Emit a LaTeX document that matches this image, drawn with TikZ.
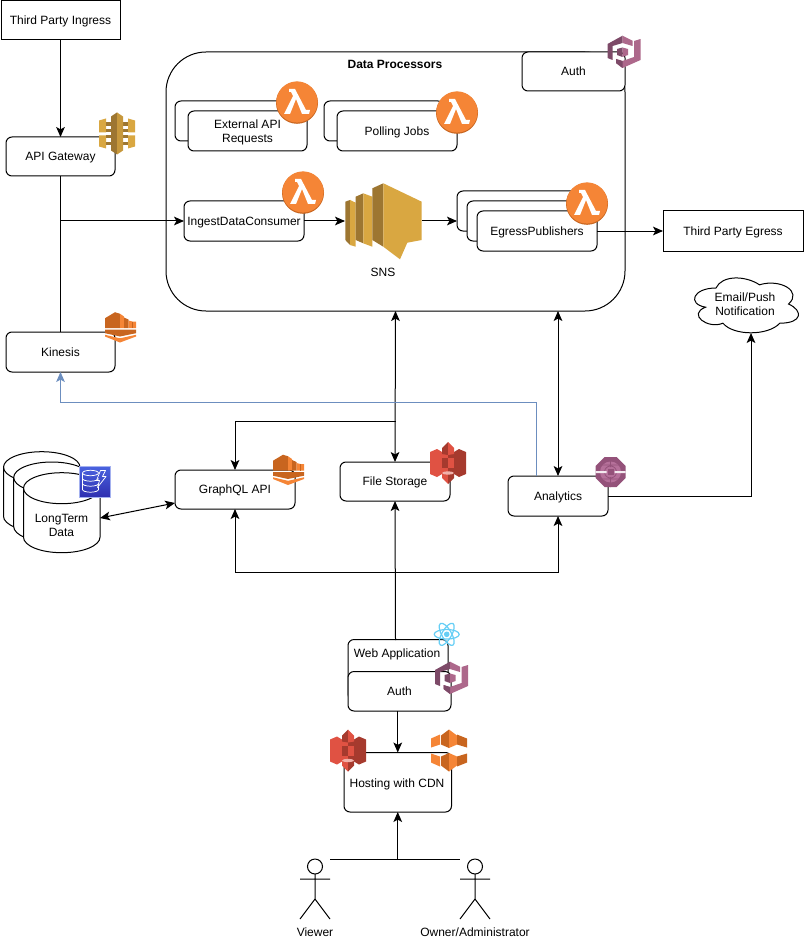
\documentclass[tikz,border=0pt]{standalone}
\usepackage{fontspec}
\setmainfont{Liberation Sans}
\usetikzlibrary{arrows.meta}
\definecolor{goldL}{HTML}{D9A741}
\definecolor{goldD}{HTML}{9D7631}
\definecolor{orgL}{HTML}{F58536}
\definecolor{orgD}{HTML}{C8651F}
\definecolor{redL}{HTML}{E05243}
\definecolor{redD}{HTML}{A63A2E}
\definecolor{purL}{HTML}{AD688B}
\definecolor{purD}{HTML}{7D4A68}
\definecolor{anaL}{HTML}{B5709A}
\definecolor{anaD}{HTML}{94527A}
\definecolor{ddbT}{HTML}{4A63E0}
\definecolor{ddbB}{HTML}{2E2FB0}
\definecolor{linkblue}{HTML}{6C8EBF}
\tikzset{
  base/.style={draw=black,fill=white,line width=.75pt,inner sep=0pt,outer sep=0pt,align=center,text depth=0pt,font=\fontsize{9}{10.5}\selectfont},
  plain/.style={base},
  rbox/.style={base,rounded corners=4.5pt},
  label/.style={inner sep=0pt,outer sep=0pt,align=center,text depth=0pt,font=\fontsize{9}{10.5}\selectfont},
  wire/.style={line width=.75pt,draw=black},
  arr/.style={wire,-{Stealth[length=7.5pt,width=6.5pt,inset=1.8pt]}},
  darr/.style={wire,{Stealth[length=7.5pt,width=6.5pt,inset=1.8pt]}-{Stealth[length=7.5pt,width=6.5pt,inset=1.8pt]}},
  barr/.style={line width=.6pt,draw=linkblue,-{Stealth[length=7.5pt,width=6.5pt,inset=1.8pt]}},
  stick/.style={line width=.75pt,draw=black},
}
\newcommand\bn[7]{%
  \pgfmathsetmacro\bw{(#5-#3)*.75}\pgfmathsetmacro\bh{(#6-#4)*.75}%
  \node[#1,minimum width=\bw pt,minimum height=\bh pt] (#2) at ({(#3+#5)/2},{(#4+#6)/2}) {#7};}
\newcommand\lambdaicon[1]{\begin{scope}[shift={#1}]
  \fill[orgD] (0,0.8) circle[radius=21];
  \fill[orgL] (0,0) circle[radius=20.6];
  \fill[white] (-8,-13)--(-2,-13)--(9,8)--(13,8)--(12,12)--(5,12)--(-1,-3)--(-7,12)--(-13,12)--(-4,-6)--(-6,-10)--(-8,-10)--cycle;
\end{scope}}
\newcommand\apiicon[1]{\begin{scope}[shift={#1}]
  \fill[goldL] (-18,-13)--(-11,-15)--(-11,-1)--(-18,-1)--cycle;
  \fill[goldL] (-18,2)--(-11,2)--(-11,15)--(-18,13)--cycle;
  \fill[goldD] (-11,-11)--(-5,-11)--(-5,-7)--(-11,-7)--cycle;
  \fill[goldD] (-11,-1)--(-11,-4)--(-5,-4)--(-5,-1)--cycle;
  \fill[goldD] (-11,2)--(-5,2)--(-5,5)--(-11,5)--cycle;
  \fill[goldD] (-11,9)--(-5,9)--(-5,12)--(-11,12)--cycle;
  \fill[goldD] (5,-11)--(11,-11)--(11,-7)--(5,-7)--cycle;
  \fill[goldD] (5,-4)--(11,-4)--(11,-1)--(5,-1)--cycle;
  \fill[goldD] (5,2)--(11,2)--(11,5)--(5,5)--cycle;
  \fill[goldD] (5,9)--(11,9)--(11,12)--(5,12)--cycle;
  \fill[goldL] (11,-15)--(18,-13)--(18,-1)--(11,-1)--cycle;
  \fill[goldL] (11,2)--(18,2)--(18,13)--(11,15)--cycle;
  \fill[goldD] (-6,-17)--(0,-21)--(0,21)--(-6,17)--cycle;
  \fill[goldL!70!goldD] (0,-21)--(6,-17)--(6,17)--(0,21)--cycle;
\end{scope}}
\newcommand\kinicon[1]{\begin{scope}[shift={#1}]
  \fill[orgD] (-15.5,-8.3)--(-5.5,-14.3)--(-0.5,-12.7)--(-0.5,1.7)--(-15.5,1.7)--cycle;
  \fill[orgL] (-0.5,-12.7)--(-0.5,1.7)--(3.5,1.7)--(3.5,-10)--cycle;
  \fill[orgD] (3.5,-9)--(8,-7)--(8,1.7)--(3.5,1.7)--cycle;
  \fill[orgL] (8,-6)--(12,-5)--(15.5,-5)--(15.5,1.7)--(8,1.7)--cycle;
  \fill[orgD] (11,-5) rectangle (12.5,1.7);
  \fill[orgD] (-15.5,3)--(15.5,3)--(15.5,6.7)--(-0.5,10)--(-15.5,6.7)--cycle;
  \fill[orgL] (-15.5,8.3)--(-0.5,11.8)--(15.5,8.3)--(15.5,10)--(-0.5,16)--(-15.5,10)--cycle;
\end{scope}}
\newcommand\sthree[1]{\begin{scope}[shift={#1}]
  \fill[redL] (-18,-11)--(-11,-14)--(-6,-11)--(0,-11)--(0,11)--(-6,11)--(-11,14)--(-18,11)--cycle;
  \fill[redD] (18,-11)--(11,-14)--(6,-11)--(0,-11)--(0,11)--(6,11)--(11,14)--(18,11)--cycle;
  \fill[redD] (-6,-5) rectangle (0,5);
  \fill[redL] (0,-5) rectangle (6,5);
  \fill[redD] (-6,-15)--(0,-21)--(0,-8)--(-6,-9)--cycle;
  \fill[redL] (0,-21)--(6,-15)--(6,-9)--(0,-8)--cycle;
  \fill[redL] (-6,11)--(0,9)--(0,21)--(-6,15)--cycle;
  \fill[redD] (0,9)--(6,11)--(6,15)--(0,21)--cycle;
  \fill[redL!45!white] (0,10) ellipse[x radius=6,y radius=1.6];
\end{scope}}
\newcommand\cfront[1]{\begin{scope}[shift={#1}]
  \foreach \s in {1,-1}{\begin{scope}[yscale=\s]
    \fill[orgL] (-18,3)--(-18,12)--(-9,16)--(-9,6)--cycle;
    \fill[orgD] (-8,6) -- (0,2.5) -- (0,21) -- (-8,15)--cycle;
    \fill[orgL] (0,2.5) -- (8,6) -- (8,15) -- (0,21)--cycle;
    \fill[orgD] (8,6)--(18,3)--(18,12)--(8,16)--cycle;
  \end{scope}}
\end{scope}}
\newcommand\cogicon[1]{\begin{scope}[shift={#1}]
  \fill[purD] (-16.5,-8)--(-1.5,-16.3)--(-1.5,-9)--(-11.5,-6)--(-11.5,8)--(-16.5,6)--cycle;
  \fill[purL] (-1.5,-16.3)--(8.5,-11.3)--(8.5,-6)--(-1.5,-9)--cycle;
  \fill[purL] (10,-11)--(16.5,-13)--(16.5,8)--(-1.5,16)--(-8,11)--(-8,7)--(-1.5,9)--(10,5)--cycle;
  \fill[purD] (-8,7)--(-1.5,9)--(-1.5,16)--(-8,11)--cycle;
  \fill[purD] (-7,-3)--(-1.5,-4.5)--(-1.5,5)--(-7,3)--cycle;
  \fill[purL] (-1.5,-4.5)--(4,-3)--(4,3)--(-1.5,5)--cycle;
\end{scope}}
\newcommand\anaicon[1]{\begin{scope}[shift={#1}]
  \fill[anaD] (-6,-15)--(6,-15)--(15,-6)--(15,6)--(6,15)--(-6,15)--(-15,6)--(-15,-6)--cycle;
  \fill[anaL] (0,0) circle[radius=10.5];
  \draw[anaD,line width=.6pt] (0,0) circle[radius=6] (-13,-7)--(13,-7) (-13,7)--(13,7) (0,-15)--(0,-5) (0,5)--(0,15);
  \fill[anaD] (-3,-3) rectangle (3,3);
  \fill[white!85!anaL] (-15,-1) rectangle (-4,1) (4,-1) rectangle (15,1);
\end{scope}}
\newcommand\ddbicon[1]{\begin{scope}[shift={#1}]
  \shade[top color=ddbT,bottom color=ddbB,draw=ddbT!50!white,line width=.4pt] (-15.5,-15.5) rectangle (15.5,15.5);
  \begin{scope}[draw=white,line width=.55pt]
    \draw[fill=none] (-4,-8.5) ellipse[x radius=8,y radius=2.7];
    \draw (-12,-8.5)--(-12,8) (4,5)--(4,8);
    \draw (-12,-3) arc[start angle=180,end angle=0,x radius=8,y radius=2.7];
    \draw (-12,2) arc[start angle=180,end angle=0,x radius=8,y radius=2.7];
    \draw (-12,8) arc[start angle=180,end angle=0,x radius=8,y radius=2.7];
    \draw[line join=round] (6,-11)--(11,-11)--(8,-5)--(11.5,-5)--(3,6)--(5,-1)--(2,-1)--cycle;
  \end{scope}
\end{scope}}
\newcommand\reacticon[1]{\begin{scope}[shift={#1}]
  \foreach \a in {0,60,120}{\draw[draw=cyan!60!white,line width=.9pt,rotate=\a] (0,0) ellipse[x radius=12.5,y radius=4.8];}
  \fill[cyan!60!white] (0,0) circle[radius=2.8];
\end{scope}}
\newcommand\cyl[5]{%
  \draw[line width=.75pt,fill=white] (#1,{#3+#5}) -- (#1,{#4-#5}) arc[start angle=180,end angle=0,x radius={(#2-#1)/2},y radius=#5] -- (#2,{#3+#5}) arc[start angle=0,end angle=-180,x radius={(#2-#1)/2},y radius=#5] -- cycle;
  \draw[line width=.75pt] (#1,{#3+#5}) arc[start angle=180,end angle=0,x radius={(#2-#1)/2},y radius=#5];}
\newcommand\actor[2]{\begin{scope}[shift={(#1,#2)}]
  \draw[stick,fill=white] (0,7.5) circle[radius=7.5];
  \draw[stick] (0,15)--(0,40) (-15,20)--(15,20) (-15,60)--(0,40)--(15,60);
\end{scope}}
\begin{document}
\begin{tikzpicture}[x=.75pt,y=-.75pt]
\useasboundingbox (0,0) rectangle (804,941);
% ---- boxes
\bn{plain}{ingress}{1}{1}{120}{40}{Third Party Ingress}
\bn{rbox}{gateway}{6}{137}{115}{176}{API Gateway}
\bn{base,rounded corners=30pt}{dp}{166}{52}{625}{311}{}
\node[label,font=\fontsize{9}{10.5}\selectfont\bfseries] (dptitle) at (395,64) {Data Processors};
\bn{rbox}{auth}{522}{52}{625}{91}{Auth}
\bn{rbox}{extb}{175}{101}{295}{141}{}
\bn{rbox}{ext}{188}{111}{307}{151}{External API\\Requests}
\bn{rbox}{pollb}{324}{101}{444}{141}{}
\bn{rbox}{poll}{337}{111}{457}{151}{Polling Jobs}
\bn{rbox}{ingest}{184}{201}{304}{241}{IngestDataConsumer}
\bn{rbox}{egb}{457}{191}{577}{231}{}
\bn{rbox}{egm}{467}{201}{587}{241}{}
\bn{rbox}{eg}{477}{211}{597}{251}{EgressPublishers}
\bn{plain}{egress}{663}{211}{803}{251}{Third Party Egress}
\bn{rbox}{kinesis}{6}{332}{115}{372}{Kinesis}
\bn{rbox}{gql}{175}{470}{295}{509}{GraphQL API}
\bn{rbox}{fs}{340}{462}{450}{501}{File Storage}
\bn{rbox}{ana}{508}{476}{608}{516}{Analytics}
\node[label] (snslabel) at (383,272) {SNS};
% ---- database
\cyl{3.5}{80}{451.7}{531.7}{15.5}
\cyl{13.7}{90}{462}{542}{15.5}
\cyl{23.5}{100}{472.7}{552.7}{15.5}
\node[label] (db) at (61.5,525) {LongTerm\\Data};
% ---- cloud
\begin{scope}[shift={(687,272)},xscale=1.0545]
\draw[line width=.75pt,fill=white] (27.5,16) .. controls (5.5,16) and (0,32) .. (17.6,35.2)
 .. controls (0,42.2) and (19.8,57.6) .. (34.1,51.2)
 .. controls (44,64) and (77,64) .. (88,51.2)
 .. controls (110,51.2) and (110,38.4) .. (96.25,32)
 .. controls (110,19.2) and (88,6.4) .. (68.75,12.8)
 .. controls (55,3.2) and (33,3.2) .. (27.5,16) -- cycle;
\end{scope}
\node[label] (cloudtext) at (745,304.5) {Email/Push\\Notification};
% ---- lower boxes
\bn{rbox}{web}{348}{639.5}{448}{700}{}
\node[label] (webtext) at (397,653) {Web Application};
\bn{rbox}{webauth}{348}{671.5}{451}{711}{Auth}
\bn{rbox}{hosting}{344}{752.5}{451.5}{812}{}
\node[label] (hostingtext) at (397,783) {Hosting with CDN};
\actor{315}{859}
\actor{475}{859}
\node[label] (viewer) at (315,932) {Viewer};
\node[label] (owner) at (475,932) {Owner/Administrator};
% ---- named free ends
\coordinate (gwjoin) at (gateway.south |- ingest.west);
\coordinate (snsin) at (345,221);
\coordinate (snsout) at (422,221);
\coordinate (egin) at (457,221);
\coordinate (egout) at (597,231);
\coordinate (gqljoin) at (395.5,421);
\coordinate (dpana) at (558,311);
\coordinate (blueup) at (536,476);
\coordinate (cloudbottom) at (751,333);
\coordinate (dbport) at (100,518);
\coordinate (gqlport) at (175,503);
\coordinate (webtop) at (395.5,640);
\coordinate (busjoin) at (395.5,572);
\coordinate (viewerport) at (330,859);
\coordinate (ownerport) at (460,859);
\coordinate (actorjoin) at (397.75,859);
% ---- connectors
\draw[arr] (ingress.south) -- (gateway.north);
\draw[wire] (gateway.south) -- (kinesis.north);
\draw[arr] (gwjoin) -- (ingest.west);
\draw[arr] (ingest.east) -- (snsin);
\draw[arr] (snsout) -- (egin);
\draw[arr] (egout) -- (egress.west);
\draw[darr] (dp.south) -- (fs.north);
\draw[arr] (gqljoin) -| (gql.north);
\draw[darr] (dpana) -- (ana.north);
\draw[barr] (blueup) |- (60.5,402) -- (kinesis.south);
\draw[arr] (ana.east) -| (cloudbottom);
\draw[darr] (dbport) -- (gqlport);
\draw[arr] (webtop) -- (fs.south);
\draw[arr] (busjoin) -| (gql.south);
\draw[arr] (busjoin) -| (ana.south);
\draw[arr] (webauth.south -| hosting.north) -- (hosting.north);
\draw[wire] (viewerport) -- (ownerport);
\draw[arr] (actorjoin) -- (hosting.south);
% ---- SNS icon
\fill[goldD] (345.3,201.7)--(350,200)--(350,245)--(345.3,240)--cycle;
\fill[goldL] (350,200)--(355.7,202.7)--(355.7,246.7)--(350,245)--cycle;
\fill[goldD] (355.7,196.7)--(363.3,193.3)--(363.3,243.3)--(355.7,240)--cycle;
\fill[goldL] (363.3,193.3)--(372.3,196.7)--(372.3,246.7)--(363.3,243.3)--cycle;
\fill[goldD] (372.3,188.3)--(383.3,183.3)--(383.3,246.7)--(372.3,240)--cycle;
\fill[goldL] (383.3,183.3)--(421.7,201.7)--(421.7,240)--(407.3,242.7)--(400,259.3)--(383.3,246.7)--cycle;
% ---- icons
\lambdaicon{(297,102)}
\lambdaicon{(457,112)}
\lambdaicon{(303,192)}
\lambdaicon{(587,203)}
\apiicon{(117,133.5)}
\kinicon{(120.5,326.5)}
\kinicon{(288.5,469)}
\cogicon{(624,52)}
\cogicon{(451.5,678)}
\sthree{(448,463)}
\sthree{(348,750.5)}
\cfront{(449,750.5)}
\anaicon{(610.5,472)}
\ddbicon{(94.5,481.5)}
\reacticon{(446.7,634.3)}
\end{tikzpicture}
\end{document}
